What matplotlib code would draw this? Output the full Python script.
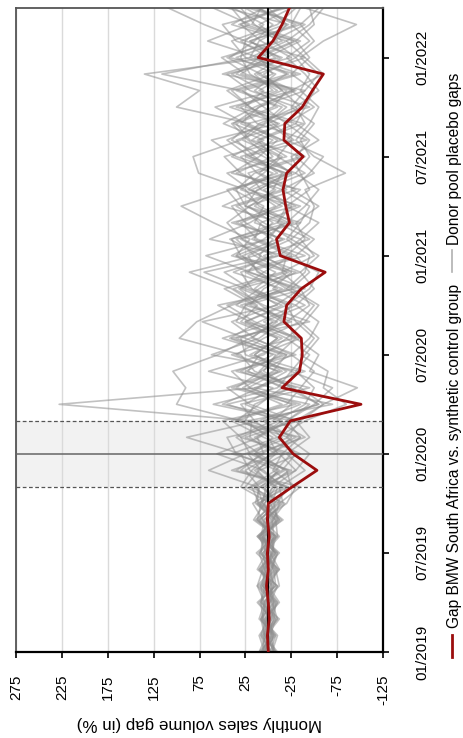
import matplotlib
matplotlib.use('Agg')
import matplotlib.pyplot as plt
from matplotlib.lines import Line2D
import numpy as np

plt.rcParams['font.family'] = ['Liberation Sans', 'DejaVu Sans']

# ---------------- data ----------------
months = list(range(40))  # 01/2019 ... 04/2022
date_ticks = [0, 6, 12, 18, 24, 30, 36]
date_labels = ['01/2019', '07/2019', '01/2020', '07/2020', '01/2021', '07/2021', '01/2022']
value_ticks = [275, 225, 175, 125, 75, 25, -25, -75, -125]
value_labels = ['275', '225', '175', '125', '75', '25', '-25', '-75', '-125']
window_start, treatment_month, window_end = 10, 12, 14

bmw_gap = [0, 1, -1, 0, 2, 0, 1, -1, 1, 0,
           -26, -53, -27, -12, -24, -101, -15, -34, -37, -36,
           -17, -20, -36, -62, -13, -9, -23, -19, -16, -20,
           -38, -17, -18, -37, -48, -60, 11, -5, -15, -23]

donor_01 = [4, -6, 8, 2, -4, 10, -2, 6, -12, 8,
            -5, 12, -8, 20, 18, 228, 12, -20, 15, -10, 25, -15, 30, 5, -25, 18, -5, 22, -30, 10, -12, 28, 3, -20, 15, -8, 35, -15, 10, -25]
donor_02 = [-2, 6, -8, 4, 12, -4, -10, 6, 2, -14,
            8, -12, 15, -5, 30, 100, 90, 104, 55, 20, -10, 35, 10, -22, 40, 5, -18, 25, 12, -30, 20, -5, 38, 10, -25, 30, 2, -35, 18, 8]
donor_03 = [8, -4, 2, -10, 6, -6, 13, -8, 12, -4,
            -10, 20, 30, 89, 10, -35, 22, -12, 40, -28, 15, 45, -10, 25, -40, 12, 30, -15, 20, 45, -20, 10, -38, 25, 5, 40, -12, 20, -30, 15]
donor_04 = [-6, 2, -12, 8, -2, 4, -8, 10, -16, 6,
            12, 65, 25, -15, 5, -55, -20, 30, -5, 42, 10, -30, 20, 48, -12, -35, 15, 5, 38, -18, 25, -42, 12, 30, -15, 8, 45, -5, -40, 22]
donor_05 = [2, 8, -4, -6, 10, -8, 4, -12, 6, 17,
            -15, 5, 56, 10, -20, -45, 35, 8, -25, 15, 40, -8, -35, 22, 8, 42, -22, 15, -8, 30, 48, -15, 22, -45, 10, -20, 25, 40, -10, -30]
donor_06 = [-8, 4, 6, -2, -10, 12, 2, -6, -4, -18,
            20, -8, -25, 30, -12, 45, -30, 15, 30, 97, 78, 40, -20, 10, 28, -18, 40, -30, 8, 22, -35, 18, -12, 42, -28, 12, -40, 25, 5, 38]
donor_07 = [6, -8, 10, 4, -6, -2, 8, 4, -10, 12,
            -22, 30, 8, -30, 22, -70, 15, -40, 20, -15, 30, 12, 40, 86, 15, -25, 5, 35, -20, 12, 30, -28, -5, 20, 40, -22, 15, -28, 32, -12]
donor_08 = [-4, -10, 6, 8, 2, -12, 10, -4, 8, -8,
            5, -25, 40, -10, 15, 30, -45, 25, -15, 35, -25, 20, 5, -30, 35, 20, 60, 95, 40, -10, 15, 35, -20, 5, 28, -35, 20, 10, -22, 45]
donor_09 = [10, 2, -6, -8, 6, 4, -12, 8, -2, 4,
            -8, 15, -18, 25, -30, 20, 45, -10, 35, 5, -35, 25, -15, 38, -5, 30, -28, 10, 25, 76, 82, 30, 10, -30, 20, 45, -25, 8, 30, -15]
donor_10 = [0, 6, -4, 12, -8, 2, 6, -10, 14, -6,
            15, -18, 10, 35, -5, -25, 20, 40, -30, 18, -5, 30, -25, 12, 22, -15, 35, -8, 18, -25, 5, 40, 20, 100, 75, 135, 0, 30, -18, 10]
donor_11 = [-10, 4, 8, -6, 4, -4, -8, 12, -6, 10,
            -18, 8, 22, -22, 35, 10, -15, 22, 10, -35, 25, -20, 15, -8, 30, 40, -10, -25, 30, 5, -15, 20, 35, -10, 30, 116, 20, -20, 40, 5]
donor_12 = [4, -2, -8, 6, 8, -10, 4, 2, -8, 14,
            10, -30, -12, 15, -25, 60, -10, -25, 25, 30, -18, 8, 32, -35, 10, -5, 25, 40, -15, 35, -5, 12, -30, 35, -10, 20, 30, 25, 70, 109]
donor_13 = [-2, -8, 4, -4, 12, 6, -6, -2, 10, -12,
            25, 10, -35, 5, 40, -15, 28, -5, -20, 25, 72, -10, 18, 30, -30, 15, 8, -35, 22, -5, 40, 5, 49, 15, -30, 25, 51, -10, 15, 30]
donor_14 = [6, 4, -10, 2, -6, 8, -4, 12, -10, -6,
            -25, -20, 15, -40, -10, -40, -50, -30, -45, -20, -40, -55, -25, -45, -30, -50, -20, -40, -55, -30, -45, -35, -50, -25, -40, -55, -35, -60, -96, -40]
donor_15 = [-6, 2, 4, -12, 0, 6, -8, 8, 4, -16,
            -12, -40, -20, -45, -30, -60, -35, -50, -25, -45, -55, -30, -50, -35, -55, -25, -45, -50, -40, -84, -50, -30, -45, -55, -35, -45, -30, -50, -35, -55]
donor_16 = [8, -4, -2, 10, -8, -6, 6, -8, 16, 4,
            -5, -30, -45, -20, -35, -60, -97, -45, -55, -30, -20, -45, -35, -15, -50, -35, -55, -20, -45, -35, -25, -55, -30, -40, -50, -25, -45, -30, -50, -45]
donor_17 = [-4, 8, 2, -8, 6, -12, -2, 4, -14, 10,
            18, -15, -30, -10, -40, -85, -60, -65, -35, -50, -30, -20, -45, -55, -20, -40, -30, -55, -25, -45, -60, -20, -40, -30, -55, -40, -20, -45, -25, -35]
donor_18 = [2, -6, 6, 4, -10, 10, -6, -4, 6, -20,
            -30, -5, -15, -35, -20, -50, -70, -25, -40, -55, -35, -50, -20, -40, -45, -20, -35, -45, -15, -50, -30, -45, -20, -50, -25, -60, -40, -20, -45, -60]
donor_19 = [-8, 0, -6, 8, 4, -2, -10, 10, -4, 12,
            10, 25, -5, -25, 5, -55, -25, 10, -10, -30, 5, -40, -5, -25, 5, -45, -10, -20, 5, -40, -10, -25, 0, -35, -15, 5, -30, -5, -20, 0]
donor_20 = [4, 10, -2, -10, 2, 8, -4, -6, 10, -10,
            -20, 35, 5, 12, -15, 25, -5, 65, 5, -20, 20, 55, -30, 20, 68, 0, -15, 50, 10, -20, 35, 62, -10, 20, 45, -5, 10, 66, 20, 60]
donor_21 = [-6, -4, 8, -2, -4, 4, 10, -10, -8, 6,
            3, -10, 35, 45, -35, 50, 10, -35, 62, 10, -15, 15, 48, -15, -20, 64, 20, -10, -35, 40, 10, -10, 25, 58, -5, 15, -15, 35, 50, -20]
donor_22 = [10, -6, 0, 6, -12, -8, 8, 6, -6, -12,
            -35, 40, -10, 0, 25, 15, -25, 5, -8, 50, -8, -25, 25, 70, -10, 28, 45, 20, -5, -15, 20, 45, 5, -15, 35, -30, 42, 15, -5, 25]
donor_23 = [-2, 4, -10, -4, 8, 2, -4, -8, 12, 8,
            0, -22, 20, 30, 50, -30, 40, -15, 15, -10, 35, 25, -40, 5, 35, -10, 10, 30, 45, -25, 0, 22, 40, -5, -20, 35, 10, -30, 25, 40]
donor_24 = [6, -2, 2, -6, -2, -10, 2, 10, -12, -2,
            30, 18, -2, -35, 35, -20, -35, 35, -20, 40, -45, 5, 38, -20, 15, 35, -35, 25, 35, 15, -40, -15, 30, 10, -40, 50, -8, 20, -35, 12]

donor_gaps = [donor_01, donor_02, donor_03, donor_04, donor_05, donor_06,
              donor_07, donor_08, donor_09, donor_10, donor_11, donor_12,
              donor_13, donor_14, donor_15, donor_16, donor_17, donor_18,
              donor_19, donor_20, donor_21, donor_22, donor_23, donor_24]

# ---------------- style ----------------
RED = '#9b0d0d'
GREY = '#8f8f8f'
FS = 11

W, H = 463, 738
fig = plt.figure(figsize=(W / 100, H / 100), dpi=100)
ax = fig.add_axes([16 / W, 1 - 652 / H, (383 - 16) / W, (652 - 8) / H])

ax.axhspan(window_start, window_end, color='#f2f2f2', zorder=0, lw=0)
ax.set_axisbelow(True)
ax.xaxis.grid(True, color='#dadada', lw=1.0)

for d in donor_gaps:
    ax.plot(d, months, color=GREY, alpha=0.55, lw=1.2, zorder=2)

ax.axhline(window_start, color='#555555', lw=0.9, ls=(0, (3, 2)), zorder=3)
ax.axhline(window_end, color='#555555', lw=0.9, ls=(0, (3, 2)), zorder=3)
ax.axhline(treatment_month, color='#666666', lw=1.1, zorder=3)
ax.axvline(0, color='black', lw=1.5, zorder=4)
ax.plot(bmw_gap, months, color=RED, lw=2.0, zorder=5)

ax.set_xlim(275, -125)
ax.set_ylim(0, 39)
ax.set_xticks(value_ticks)
ax.set_xticklabels(value_labels, rotation=90)
ax.set_yticks(date_ticks)
ax.set_yticklabels(date_labels, rotation=90, va='center')
ax.yaxis.tick_right()

ax.tick_params(axis='x', bottom=True, top=False, direction='out', length=4,
               width=1.2, labelsize=FS, pad=12, colors='black')
ax.tick_params(axis='y', left=False, right=True, direction='out', length=4,
               width=1.2, labelsize=FS, pad=19, colors='black')

for s in ['bottom', 'right']:
    ax.spines[s].set_color('black')
    ax.spines[s].set_linewidth(1.6)
for s in ['left', 'top']:
    ax.spines[s].set_color('#555555')
    ax.spines[s].set_linewidth(1.3)

fig.text(199 / W, 1 - 723 / H, 'Monthly sales volume gap (in %)', rotation=180,
         ha='center', va='center', fontsize=12.2)

# manual legend (rotated)
fig.add_artist(Line2D([452 / W, 452 / W], [1 - 657 / H, 1 - 635 / H], color=RED,
                      lw=2.0, transform=fig.transFigure))
fig.text(455 / W, 1 - 628 / H, 'Gap BMW South Africa vs. synthetic control group',
         rotation=90, ha='center', va='bottom', fontsize=11.2)
fig.add_artist(Line2D([452 / W, 452 / W], [1 - 272 / H, 1 - 250 / H], color=GREY,
                      alpha=0.7, lw=1.2, transform=fig.transFigure))
fig.text(455 / W, 1 - 245 / H, 'Donor pool placebo gaps',
         rotation=90, ha='center', va='bottom', fontsize=11.2)

fig.savefig('out.png', dpi=100)
